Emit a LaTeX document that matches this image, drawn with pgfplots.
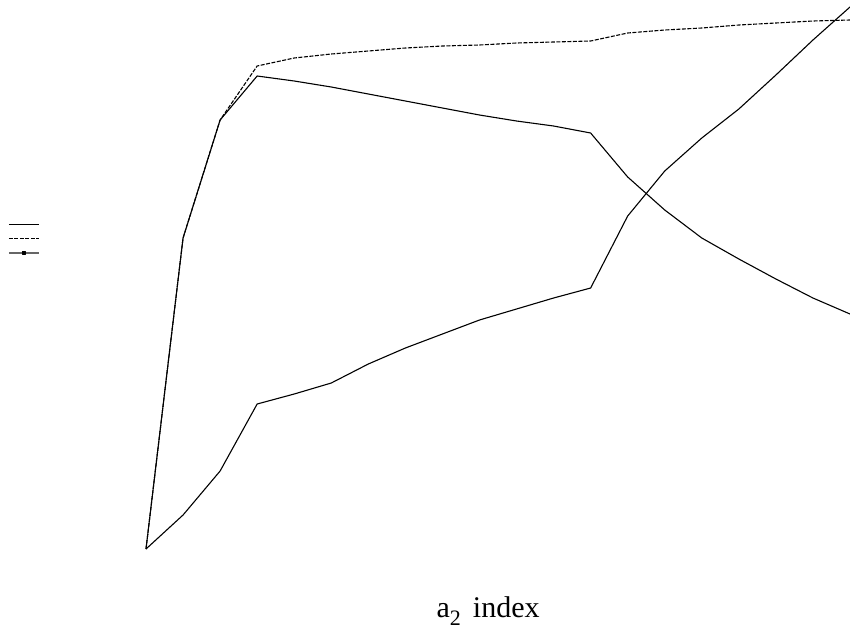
\documentclass[border=0pt]{standalone}
\usepackage{pgfplots}
\pgfplotsset{compat=1.18}
\usepackage{fontspec}
\setmainfont{Liberation Serif}

\begin{document}
\begin{tikzpicture}[x=1pt,y=1pt]
\path[use as bounding box] (0,0) rectangle (850,-635);
\begin{axis}[
  at={(146pt,-549pt)}, anchor=south west,
  scale only axis, width=704pt, height=542pt,
  xmin=0, xmax=19, ymin=0, ymax=542,
  axis line style={draw=none},
  xtick=\empty, ytick=\empty,
  clip=false,
  xlabel={\fontsize{30}{34}\selectfont a\raisebox{-0.28em}{\fontsize{22}{22}\selectfont 2}\hspace{0.4em}index},
  xlabel style={at={(axis description cs:0.486,-0.1255)}, anchor=base, inner sep=0pt},
  legend style={draw=none, fill=none, at={(axis description cs:-0.196,0.572)}, anchor=west,
    inner sep=0pt, row sep=12.5pt, nodes={inner sep=0pt}},
  legend cell align=left,
  legend image code/.code={\draw[mark repeat=2,mark phase=2,#1] plot coordinates {(0pt,0pt) (15pt,0pt) (30pt,0pt)};},
  every axis plot/.append style={line width=1.1pt, black, line join=round},
]
% solid series rising then falling
\addplot[mark=none] coordinates {
 (0,0) (1,311) (2,429) (3,473) (4,468) (5,462) (6,455) (7,448) (8,441) (9,434)
 (10,428) (11,423) (12,416) (13,372) (14,339) (15,311) (16,290) (17,270) (18,251) (19,235)};
\addlegendentry{}
% dashed series levelling off near the top
\addplot[mark=none, dash pattern=on 4pt off 1.5pt] coordinates {
 (0,0) (1,311) (2,429) (3,483) (4,491) (5,495) (6,498) (7,501) (8,503) (9,504)
 (10,506) (11,507) (12,508) (13,516) (14,519) (15,521) (16,524) (17,526) (18,528) (19,529)};
\addlegendentry{}
% steadily rising series
\addplot[mark=none, legend image post style={mark=square*, mark size=1.5pt, draw=black!60,
    mark options={draw=black, fill=black, solid}}] coordinates {
 (0,0) (1,34) (2,78) (3,145) (4,155) (5,166) (6,185) (7,201) (8,215) (9,229)
 (10,240) (11,251) (12,261) (13,333) (14,378) (15,411) (16,440) (17,474) (18,509) (19,542)};
\addlegendentry{}
\end{axis}
\end{tikzpicture}
\end{document}
